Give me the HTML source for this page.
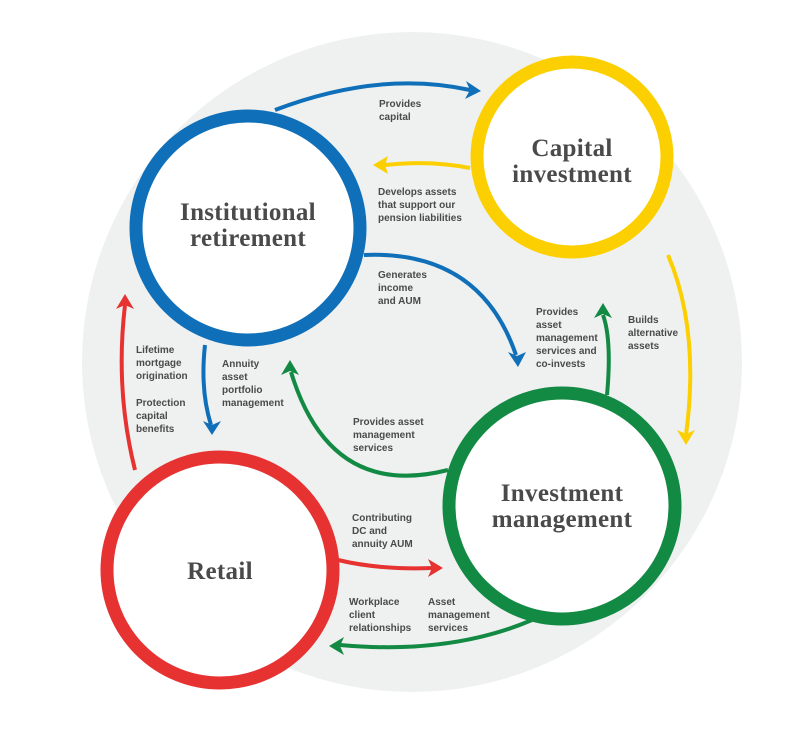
<!DOCTYPE html>
<html><head><meta charset="utf-8"><style>
html,body{margin:0;padding:0;background:#fff;}
svg text{font-family:"Liberation Sans",sans-serif;font-weight:bold;font-size:10px;fill:#4a4a4a;}
svg text.t{font-family:"Liberation Serif",serif;font-size:25px;fill:#4a4a4a;letter-spacing:0.3px;}
</style></head><body>
<svg width="805" height="725" viewBox="0 0 805 725" xmlns="http://www.w3.org/2000/svg">
<circle cx="412" cy="362" r="330" fill="#eff0f0"/>
<g fill="none" stroke-width="4">
<path d="M275,110 Q380,70 470,90" stroke="#0f6fb8"/>
<path d="M470,168 Q430,160 385,165" stroke="#fcd000"/>
<path d="M364,255 Q480,250 516,355" stroke="#0f6fb8"/>
<path d="M607,395 Q612,340 603,315" stroke="#138a43"/>
<path d="M668,255 Q700,330 686,435" stroke="#fcd000"/>
<path d="M448,470 Q330,500 291,372" stroke="#138a43"/>
<path d="M205,345 Q200,390 211,425" stroke="#0f6fb8"/>
<path d="M135,470 Q115,390 125,305" stroke="#e63332"/>
<path d="M338,560 Q380,570 432,568" stroke="#e63332"/>
<path d="M532,620 Q450,655 340,645" stroke="#138a43"/>
</g>
<g>
<polygon points="481,91 466,81 470,90 465,99" fill="#0f6fb8"/>
<polygon points="373,165 388,156 385,165 388,174" fill="#fcd000"/>
<polygon points="518,367 508,352 517,356 526,352" fill="#0f6fb8"/>
<polygon points="603,303 594,318 603,314 612,318" fill="#138a43"/>
<polygon points="686,445 677,430 686,434 695,430" fill="#fcd000"/>
<polygon points="290,360 281,375 290,371 299,375" fill="#138a43"/>
<polygon points="212,435 203,421 212,425 221,421" fill="#0f6fb8"/>
<polygon points="125,294 116,309 125,305 134,309" fill="#e63332"/>
<polygon points="443,568 428,559 432,568 428,577" fill="#e63332"/>
<polygon points="329,646 344,637 340,646 344,655" fill="#138a43"/>
</g>
<circle cx="248" cy="228" r="112" fill="#fff" stroke="#0f6fb8" stroke-width="13"/>
<circle cx="572" cy="157" r="95" fill="#fff" stroke="#fcd000" stroke-width="13"/>
<circle cx="562" cy="506" r="113" fill="#fff" stroke="#138a43" stroke-width="13"/>
<circle cx="220" cy="570" r="113" fill="#fff" stroke="#e63332" stroke-width="13"/>
<text class="t" x="248" y="220" text-anchor="middle">Institutional</text>
<text class="t" x="248" y="246" text-anchor="middle">retirement</text>
<text class="t" x="572" y="156" text-anchor="middle">Capital</text>
<text class="t" x="572" y="182" text-anchor="middle">investment</text>
<text class="t" x="562" y="501" text-anchor="middle">Investment</text>
<text class="t" x="562" y="527" text-anchor="middle">management</text>
<text class="t" x="220" y="579" text-anchor="middle">Retail</text>
<text x="379" y="107">Provides</text><text x="379" y="120">capital</text>
<text x="378" y="195">Develops assets</text><text x="378" y="208">that support our</text><text x="378" y="221">pension liabilities</text>
<text x="378" y="278">Generates</text><text x="378" y="291">income</text><text x="378" y="304">and AUM</text>
<text x="536" y="315">Provides</text><text x="536" y="328">asset</text><text x="536" y="341">management</text><text x="536" y="354">services and</text><text x="536" y="367">co-invests</text>
<text x="628" y="323">Builds</text><text x="628" y="336">alternative</text><text x="628" y="349">assets</text>
<text x="136" y="353">Lifetime</text><text x="136" y="366">mortgage</text><text x="136" y="379">origination</text>
<text x="136" y="406">Protection</text><text x="136" y="419">capital</text><text x="136" y="432">benefits</text>
<text x="222" y="367">Annuity</text><text x="222" y="380">asset</text><text x="222" y="393">portfolio</text><text x="222" y="406">management</text>
<text x="353" y="425">Provides asset</text><text x="353" y="438">management</text><text x="353" y="451">services</text>
<text x="352" y="521">Contributing</text><text x="352" y="534">DC and</text><text x="352" y="547">annuity AUM</text>
<text x="349" y="605">Workplace</text><text x="349" y="618">client</text><text x="349" y="631">relationships</text>
<text x="428" y="605">Asset</text><text x="428" y="618">management</text><text x="428" y="631">services</text>
</svg>
</body></html>
